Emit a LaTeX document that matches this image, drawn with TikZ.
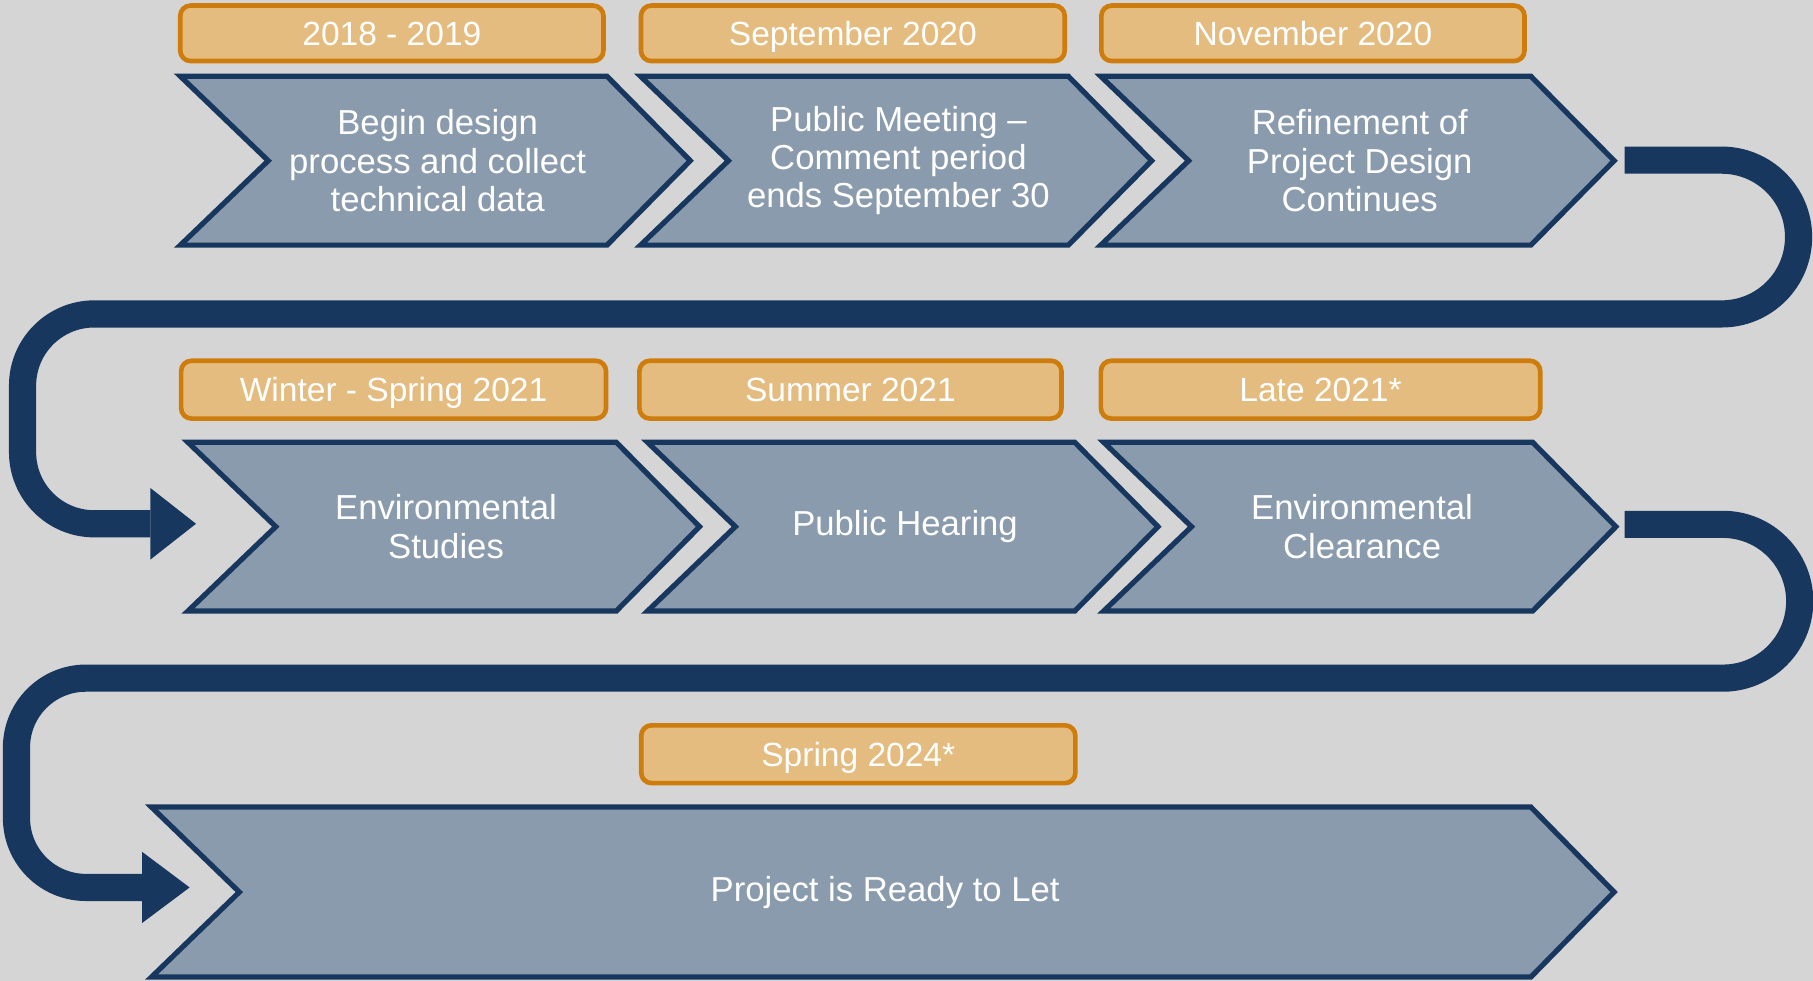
\documentclass[tikz,border=0pt]{standalone}
\usepackage{fontspec}
\setmainfont{Liberation Sans}
\usetikzlibrary{calc}
\definecolor{navy}{RGB}{23,55,94}
\definecolor{chevfill}{RGB}{138,155,173}
\definecolor{datefill}{RGB}{228,188,128}
\definecolor{dateline}{RGB}{206,125,12}
\definecolor{bgcol}{RGB}{213,213,213}
\tikzset{
  chevbox/.style={draw=navy, fill=chevfill, line width=4.5pt, line join=miter},
  chevtext/.style={text=white, align=center, font=\fontsize{30}{33}\selectfont, inner sep=0pt},
  datebox/.style={draw=dateline, fill=datefill, line width=4pt, rounded corners=9pt,
    text=white, font=\fontsize{29}{33}\selectfont, inner sep=0pt, text height=21pt, text depth=0pt},
  band/.style={draw=navy, line width=23.5pt},
  bandhead/.style={fill=navy, draw=none},
}
\newcommand{\chevronshape}[6]{%
  \draw[chevbox] (#2,#4) -- (#3,#4) -- ({#3+72},{(#4+#5)/2}) -- (#3,#5) -- (#2,#5) -- ({#2+76},{(#4+#5)/2}) -- cycle;
  \node[chevtext] (#1) at ({(#2+76+#3)/2},{(#4+#5)/2}) {#6};
}
\begin{document}
\begin{tikzpicture}[x=1pt,y=-1pt]
\fill[bgcol] (0,0) rectangle (1568,848);
\useasboundingbox (0,0) rectangle (1568,848);

% date boxes
\node[datebox, minimum width=366pt, minimum height=48pt] (d1) at (338.9,28.8) {2018 - 2019};
\node[datebox, minimum width=366.5pt, minimum height=48pt] (d2) at (737.6,28.8) {September 2020};
\node[datebox, minimum width=366pt, minimum height=48pt] (d3) at (1135.5,28.8) {November 2020};
\node[datebox, minimum width=367.5pt, minimum height=50pt] (d4) at (340.4,337) {Winter - Spring 2021};
\node[datebox, minimum width=365pt, minimum height=50pt] (d5) at (735.5,337) {Summer 2021};
\node[datebox, minimum width=380pt, minimum height=50pt] (d6) at (1142.1,337) {Late 2021*};
\node[datebox, minimum width=375.5pt, minimum height=50pt] (d7) at (742.3,652.3) {Spring 2024*};

% chevrons
\chevronshape{c1}{156}{525}{66}{212}{Begin design\\process and collect\\technical data}
\chevronshape{c2}{554}{924}{66}{212}{Public Meeting –\\Comment period\\ends September 30}
\chevronshape{c3}{952}{1324}{66}{212}{Refinement of\\Project Design\\Continues}
\chevronshape{c4}{162.5}{533}{382.5}{528.5}{Environmental\\Studies}
\chevronshape{c5}{560}{929.5}{382.5}{528.5}{Public Hearing}
\chevronshape{c6}{954.5}{1325.5}{382.5}{528.5}{Environmental\\Clearance}
\chevronshape{c7}{131}{1324}{698}{845}{Project is Ready to Let}

% snake connector 1 (row 1 -> row 2)
\coordinate (s1a) at (1405,138.5);
\coordinate (s1b) at (130,453);
\coordinate (s1t) at (169.5,453);
\draw[band] (s1a) -- (1489,138.5) arc[start angle=-90,end angle=90,radius=66.5]
  -- (81.5,271.5) arc[start angle=-90,end angle=-180,radius=62]
  -- (19.5,391) arc[start angle=180,end angle=90,radius=62] -- (s1b);
\fill[bandhead] (130,422) -- (s1t) -- (130,484) -- cycle;

% snake connector 2 (row 2 -> row 3)
\coordinate (s2a) at (1405,453.5);
\coordinate (s2b) at (123,767.5);
\coordinate (s2t) at (164,767.5);
\draw[band] (s2a) -- (1490,453.5) arc[start angle=-90,end angle=90,radius=66.5]
  -- (74.25,586.5) arc[start angle=-90,end angle=-180,radius=60]
  -- (14.25,707.5) arc[start angle=180,end angle=90,radius=60] -- (s2b);
\fill[bandhead] (123,736.8) -- (s2t) -- (123,798.2) -- cycle;
\end{tikzpicture}
\end{document}
